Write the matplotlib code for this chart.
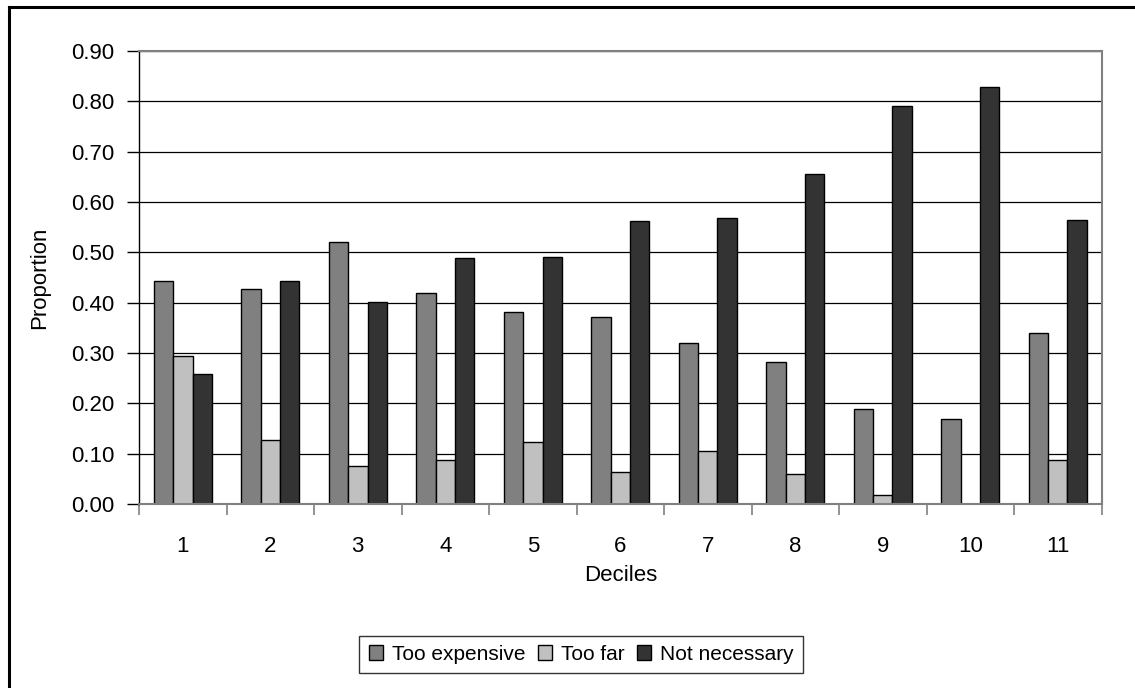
"""Grouped bar chart of reasons for not using a service, by decile."""

import matplotlib

matplotlib.use("Agg")
import matplotlib.pyplot as plt
import numpy as np
from matplotlib.lines import Line2D

deciles = ["1", "2", "3", "4", "5", "6", "7", "8", "9", "10", "11"]
too_expensive = [0.443, 0.427, 0.520, 0.420, 0.382, 0.372, 0.320, 0.282, 0.189, 0.169, 0.340]
too_far = [0.295, 0.127, 0.076, 0.088, 0.124, 0.064, 0.105, 0.060, 0.018, 0.0, 0.087]
not_necessary = [0.259, 0.443, 0.402, 0.489, 0.491, 0.563, 0.569, 0.656, 0.790, 0.829, 0.565]
series_names = ["Too expensive", "Too far", "Not necessary"]
y_ticks = [0.0, 0.1, 0.2, 0.3, 0.4, 0.5, 0.6, 0.7, 0.8, 0.9]

plt.rcParams["font.family"] = ["Liberation Sans", "DejaVu Sans"]

fig = plt.figure(figsize=(11.35, 6.88), dpi=100)
ax = fig.add_axes([0.1225, 0.2674, 0.848, 0.6585])

x = np.arange(len(deciles))
width = 1 / 4.5
colors = ["#808080", "#c0c0c0", "#333333"]
for offset, values, color, name in zip(
    (-width, 0, width), (too_expensive, too_far, not_necessary), colors, series_names
):
    ax.bar(x + offset, values, width, color=color, edgecolor="black",
           linewidth=1.0, label=name, zorder=2)

ax.set_xlim(-0.5, len(deciles) - 0.5)
ax.set_ylim(0, 0.9)
ax.set_yticks(y_ticks)
ax.set_yticklabels([f"{v:.2f}" for v in y_ticks])
ax.yaxis.grid(True, color="black", linewidth=0.9, zorder=0)
ax.set_axisbelow(True)

ax.set_xticks(x)
ax.set_xticklabels(deciles)
ax.set_xticks(np.arange(len(deciles) + 1) - 0.5, minor=True)
ax.tick_params(axis="x", which="major", length=0, pad=23, labelsize=16)
ax.tick_params(axis="x", which="minor", length=8, color="#808080", width=1.2)
ax.tick_params(axis="y", length=9, width=1.0, color="black", pad=9, labelsize=16)

for side in ("top", "right", "bottom"):
    ax.spines[side].set_color("#808080")
    ax.spines[side].set_linewidth(1.5)
ax.spines["left"].set_color("black")
ax.spines["left"].set_linewidth(1.0)

ax.set_xlabel("Deciles", fontsize=16, labelpad=6)
ax.set_ylabel("Proportion", fontsize=16, labelpad=15)

ax.legend(loc="center", bbox_to_anchor=(581 / 1135, 1 - 654.5 / 688),
          bbox_transform=fig.transFigure, ncol=3, frameon=True, fancybox=False,
          edgecolor="black", fontsize=15, handlelength=0.7, handleheight=0.7,
          handletextpad=0.4, columnspacing=0.6, borderpad=0.45)
leg = ax.get_legend()
leg.get_frame().set_linewidth(1.0)

# outer chart border (top and left edges)
fig.add_artist(Line2D([8.5 / 1135, 1.0], [1 - 6.5 / 688, 1 - 6.5 / 688],
                      transform=fig.transFigure, color="black", linewidth=2.2))
fig.add_artist(Line2D([8.5 / 1135, 8.5 / 1135], [0.0, 1 - 6.5 / 688],
                      transform=fig.transFigure, color="black", linewidth=2.2))

fig.savefig("out.png", dpi=100, facecolor="white")
